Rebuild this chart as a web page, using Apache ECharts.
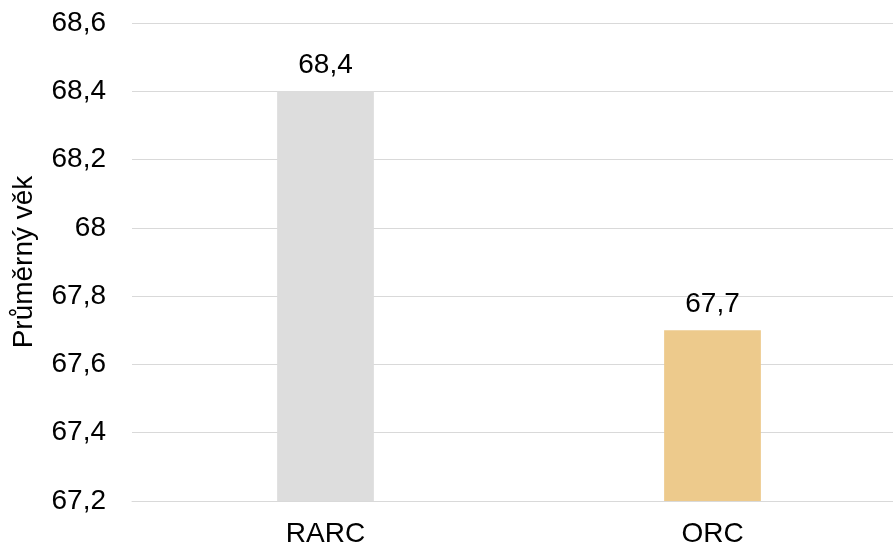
<!DOCTYPE html>
<html>
<head>
<meta charset="utf-8">
<script src="https://cdn.jsdelivr.net/npm/echarts@6/dist/echarts.min.js"></script>
<style>
  html, body { margin: 0; padding: 0; background: #fff; overflow: hidden; }
  #chart { width: 906px; height: 548px; }
</style>
</head>
<body>
<div id="chart"></div>
<script>
const categories = ['RARC', 'ORC'];
const values = [68.4, 67.7];
const barColors = ['#dddddd', '#edca8c'];
const yTicks = [67.2, 67.4, 67.6, 67.8, 68, 68.2, 68.4, 68.6];

const font = 'Liberation Sans, Arial, sans-serif';
const fmt = (v) => String(Math.round(v * 10) / 10).replace('.', ',');

// plot runs a bit past the right edge of the window, like the original
const myChart = echarts.init(document.getElementById('chart'));
myChart.setOption({
  animation: false,
  grid: {
    left: 132,
    right: 0,
    top: 23,
    bottom: 47,
    containLabel: false
  },
  xAxis: {
    type: 'category',
    data: categories,
    axisTick: { show: false },
    axisLine: { lineStyle: { color: '#d9d9d9', width: 1 } },
    axisLabel: { color: '#000', fontSize: 28, fontFamily: font, margin: 19 }
  },
  yAxis: {
    type: 'value',
    min: yTicks[0],
    max: yTicks[yTicks.length - 1],
    interval: 0.2,
    name: 'Průměrný věk',
    nameLocation: 'middle',
    nameGap: 94,
    nameTextStyle: { color: '#000', fontSize: 28, fontFamily: font },
    axisLine: { show: false },
    axisTick: { show: false },
    axisLabel: { color: '#000', fontSize: 28, fontFamily: font, margin: 26, formatter: fmt },
    splitLine: { lineStyle: { color: '#d9d9d9', width: 1 } }
  },
  series: [
    {
      type: 'bar',
      barWidth: '25%',
      data: values.map((v, i) => ({ value: v, itemStyle: { color: barColors[i] } })),
      label: {
        show: true,
        position: 'top',
        distance: 12,
        color: '#000',
        fontSize: 28,
        fontFamily: font,
        formatter: (p) => fmt(p.value)
      }
    }
  ]
});
</script>
</body>
</html>
